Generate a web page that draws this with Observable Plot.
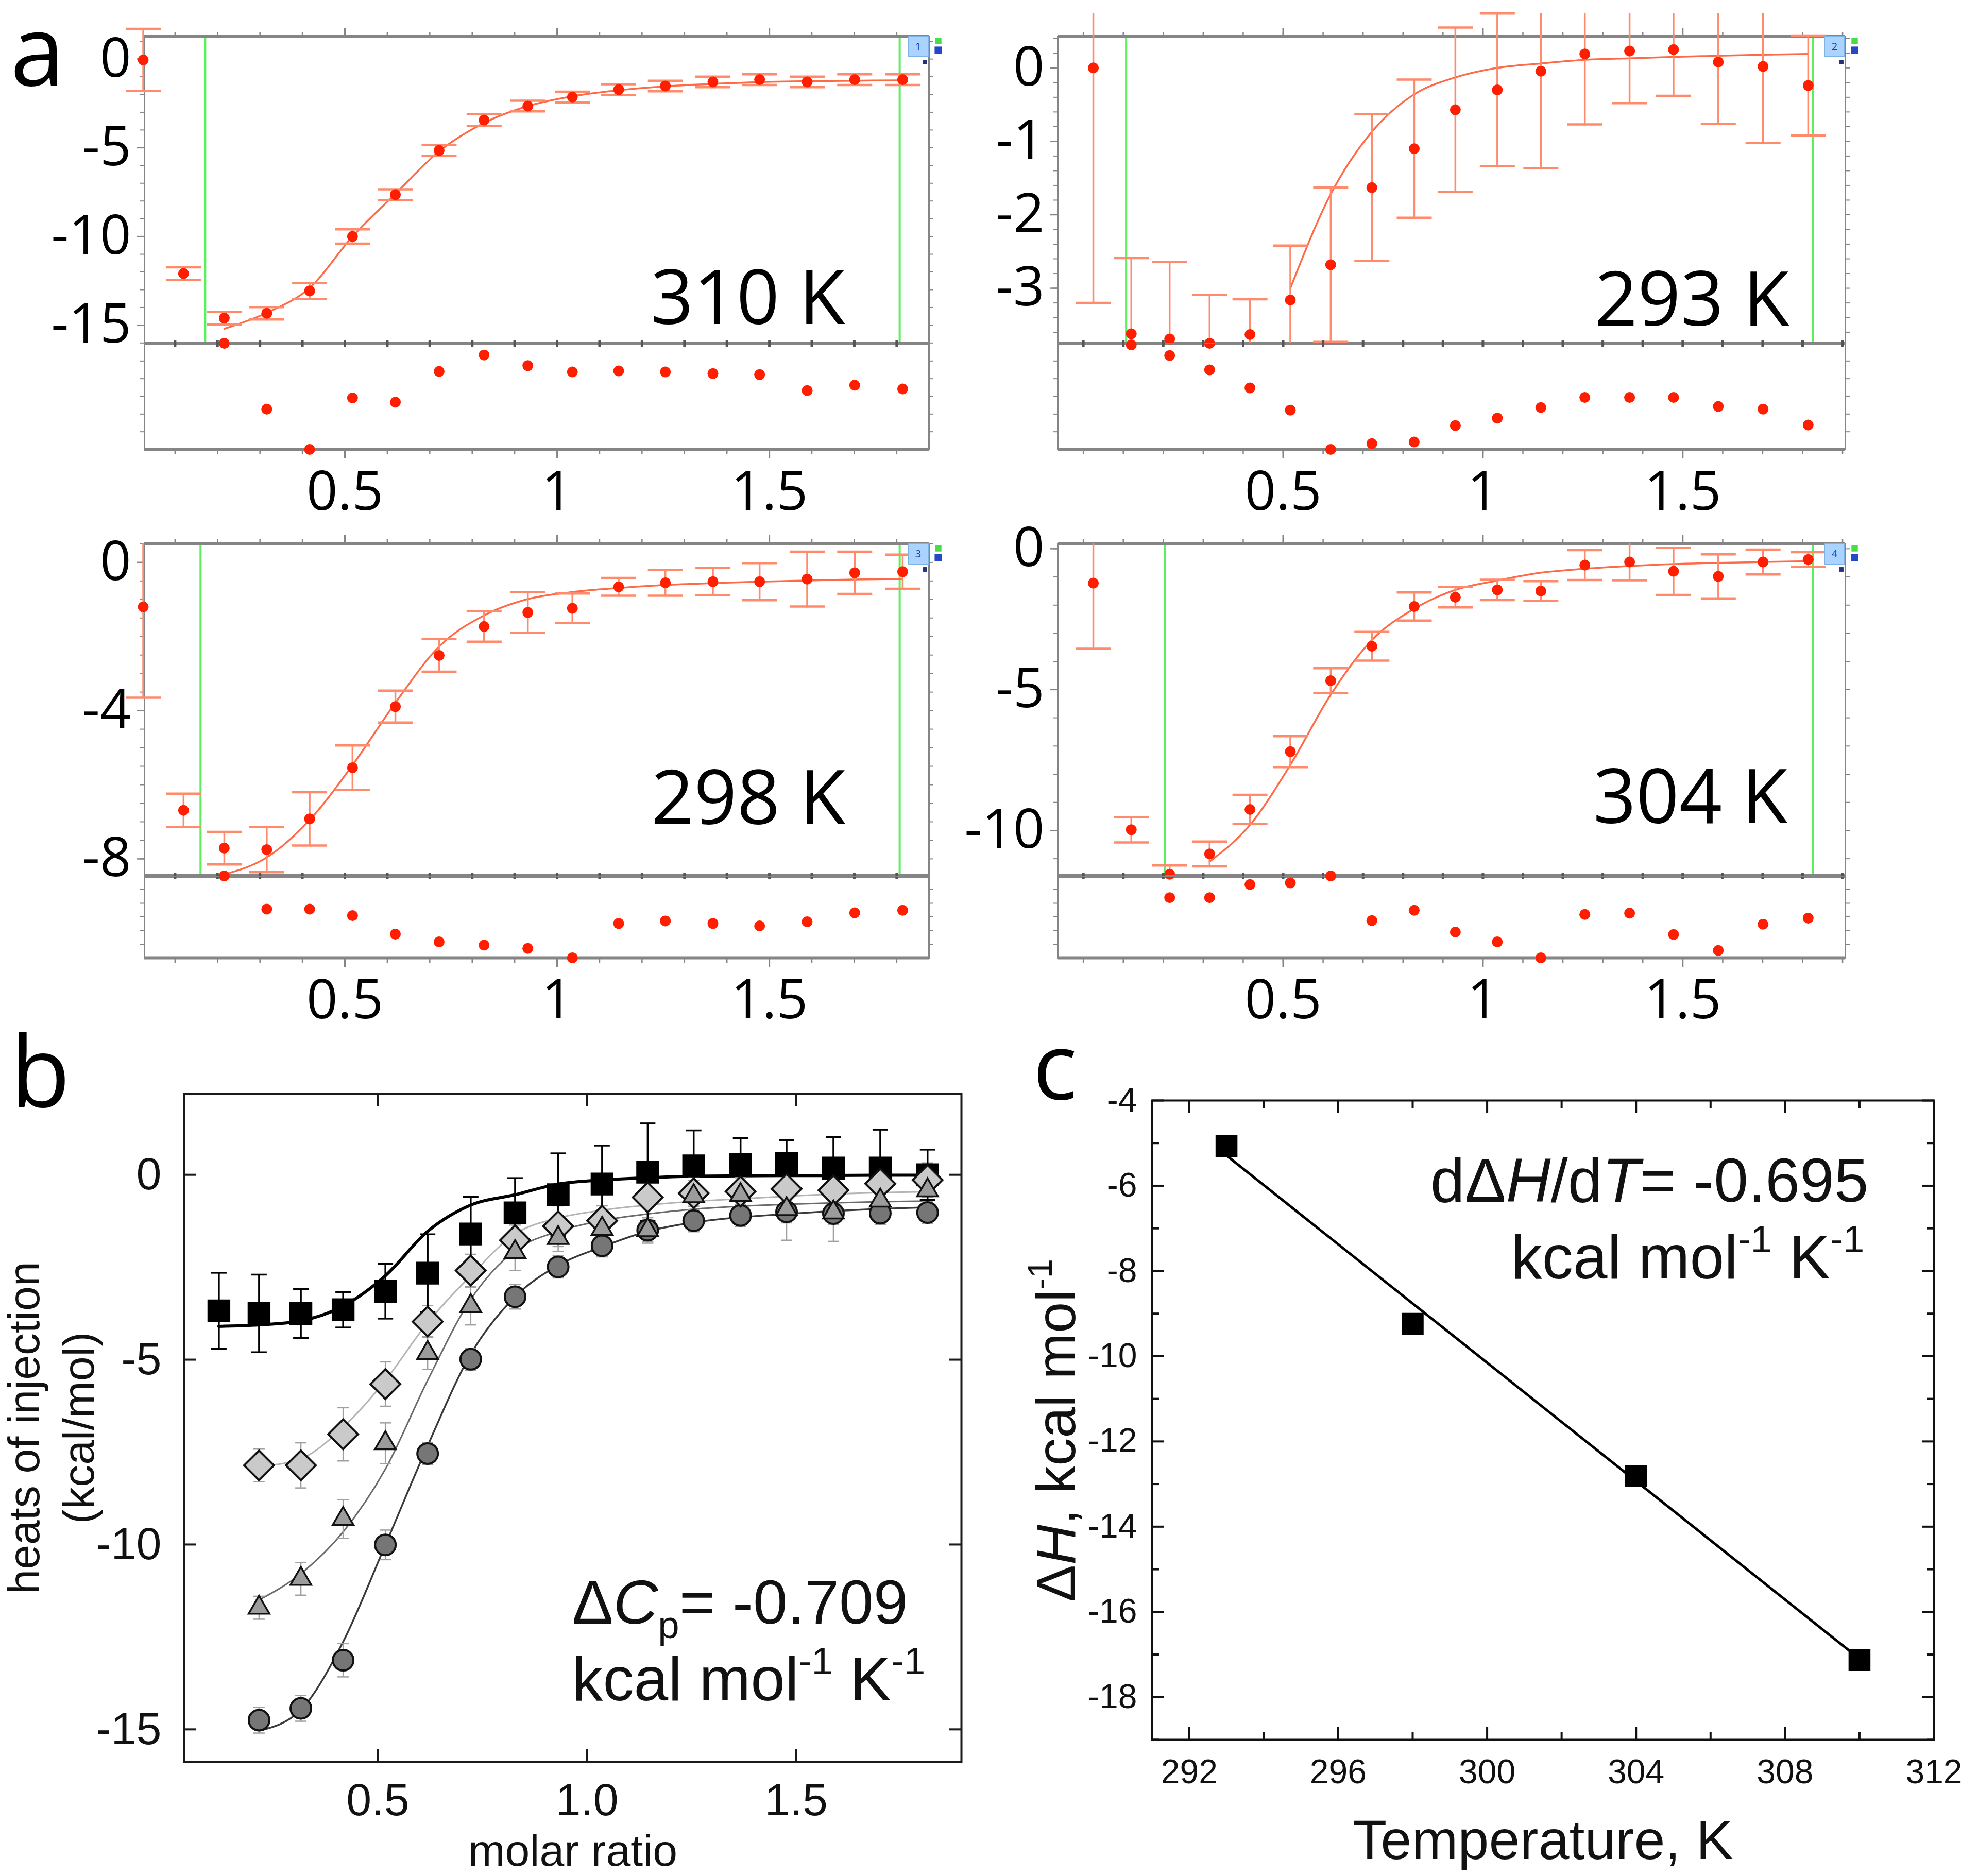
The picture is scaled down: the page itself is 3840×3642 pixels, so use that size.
<!DOCTYPE html>
<html>
<head>
<meta charset="utf-8">
<script src="https://cdn.jsdelivr.net/npm/d3@7"></script>
<script src="https://cdn.jsdelivr.net/npm/@observablehq/plot@0.6"></script>
<style>
  html, body { margin: 0; padding: 0; background: #fff; }
  body { width: 3840px; height: 3642px; position: relative; overflow: hidden; }
  .p { position: absolute; }
  .p svg { overflow: visible; }
  .letter { position: absolute; font-family: "Open Sans", sans-serif; line-height: 0.8; color: #000; }
</style>
</head>
<body>
<div class="letter" style="left:20px;top:17px;font-size:190px">a</div>
<div class="letter" style="left:20px;top:2000px;font-size:190px">b</div>
<div class="letter" style="left:2005px;top:1993px;font-size:180px">c</div>
<script>
// ================= DATA =================
// injection molar ratios (shared by all ITC traces)
const molarRatio = [0.025, 0.12, 0.216, 0.316, 0.417, 0.518, 0.619, 0.722, 0.828, 0.931, 1.036, 1.145, 1.255, 1.367, 1.477, 1.589, 1.701, 1.814];

// panel a, 310 K
const heat310  = [-0.05, -12.09, -14.6, -14.33, -13.07, -10.0, -7.64, -5.15, -3.44, -2.65, -2.14, -1.72, -1.52, -1.29, -1.16, -1.29, -1.16, -1.16];
const err310   = [1.75, 0.35, 0.35, 0.35, 0.45, 0.4, 0.3, 0.3, 0.33, 0.3, 0.3, 0.3, 0.3, 0.3, 0.3, 0.3, 0.3, 0.3];
const fit310   = [null, null, -15.2, -14.3, -12.9, -10.0, -7.6, -5.2, -3.6, -2.65, -2.1, -1.76, -1.54, -1.4, -1.3, -1.25, -1.22, -1.2];
const resid310 = [null, null, 1.0, -0.24, -1.0, -0.03, -0.11, 0.47, 0.78, 0.58, 0.46, 0.48, 0.46, 0.43, 0.41, 0.11, 0.21, 0.14];

// panel a, 293 K
const heat293  = [0.0, -3.62, -3.69, -3.75, -3.63, -3.16, -2.68, -1.63, -1.10, -0.57, -0.30, -0.045, 0.19, 0.23, 0.25, 0.08, 0.02, -0.24];
const err293   = [3.2, 1.03, 1.05, 0.66, 0.48, 0.74, 1.05, 1.0, 0.94, 1.12, 1.04, 1.32, 0.96, 0.71, 0.63, 0.84, 1.04, 0.68];
const fit293   = [null, null, null, null, null, -3.0, -1.72, -0.87, -0.36, -0.13, 0.0, 0.06, 0.11, 0.13, 0.15, 0.165, 0.18, 0.19];
const resid293 = [null, 0.97, 0.77, 0.50, 0.16, -0.26, -1.0, -0.89, -0.86, -0.55, -0.41, -0.21, -0.02, -0.02, -0.02, -0.19, -0.24, -0.54];

// panel a, 298 K
const heat298  = [-1.20, -6.69, -7.71, -7.75, -6.92, -5.54, -3.89, -2.51, -1.73, -1.35, -1.24, -0.66, -0.55, -0.52, -0.52, -0.45, -0.28, -0.25];
const err298   = [2.45, 0.45, 0.44, 0.61, 0.72, 0.6, 0.43, 0.44, 0.41, 0.55, 0.4, 0.24, 0.35, 0.37, 0.5, 0.74, 0.57, 0.46];
const fit298   = [null, null, -8.42, -7.96, -6.95, -5.47, -3.79, -2.27, -1.43, -0.99, -0.80, -0.69, -0.61, -0.56, -0.52, -0.49, -0.46, -0.45];
const resid298 = [null, null, 1.0, 0.19, 0.19, 0.03, -0.42, -0.61, -0.69, -0.77, -1.0, -0.16, -0.10, -0.16, -0.22, -0.12, 0.10, 0.16];

// panel a, 304 K
const heat304  = [-1.22, -9.97, -11.55, -10.83, -9.25, -7.20, -4.68, -3.46, -2.05, -1.72, -1.46, -1.50, -0.58, -0.47, -0.80, -0.98, -0.47, -0.38];
const err304   = [2.33, 0.45, 0.31, 0.44, 0.52, 0.55, 0.44, 0.51, 0.5, 0.36, 0.36, 0.35, 0.53, 0.65, 0.84, 0.78, 0.44, 0.26];
const fit304   = [null, null, null, -11.1, -9.8, -7.67, -5.18, -3.24, -2.13, -1.46, -1.13, -0.85, -0.71, -0.61, -0.54, -0.50, -0.47, -0.44];
const resid304 = [null, null, 0.47, 0.47, 0.79, 0.83, 1.0, -0.09, 0.16, -0.37, -0.61, -1.0, 0.06, 0.09, -0.43, -0.82, -0.18, -0.03];

// integration limits (green markers)
const limits310 = [0.171, 1.807];
const limits293 = [0.107, 1.826];
const limits298 = [0.16, 1.807];
const limits304 = [0.204, 1.826];

// panel b (global fit): squares 293 K, diamonds 298 K, triangles 304 K, circles 310 K
const bSquares    = [null, -3.68, -3.75, -3.75, -3.65, -3.15, -2.66, -1.6, -1.03, -0.54, -0.25, 0.07, 0.24, 0.28, 0.31, 0.18, 0.18, 0.0];
const bDiamonds   = [null, null, -7.86, -7.86, -7.02, -5.66, -3.97, -2.59, -1.77, -1.39, -1.24, -0.61, -0.5, -0.45, -0.38, -0.42, -0.24, -0.14];
const bTriangles  = [null, null, -11.71, -10.93, -9.31, -7.26, -4.82, -3.55, -2.09, -1.71, -1.46, -1.5, -0.58, -0.55, -0.93, -1.02, -0.70, -0.42];
const bCircles    = [null, null, -14.75, -14.43, -13.13, -10.01, -7.54, -4.99, -3.3, -2.49, -1.92, -1.5, -1.24, -1.1, -1.0, -1.05, -1.04, -1.02];
const bFitSquares   = [null, -4.10, -4.06, -3.95, -3.55, -2.73, -1.53, -0.82, -0.54, -0.25, -0.14, -0.08, -0.04, -0.03, -0.02, -0.02, -0.01, -0.01];
const bFitDiamonds  = [null, null, -7.89, -7.68, -6.83, -5.56, -4.0, -2.73, -1.6, -1.17, -0.96, -0.82, -0.72, -0.65, -0.58, -0.52, -0.48, -0.46];
const bFitTriangles = [null, null, -11.5, -10.79, -9.66, -7.96, -5.56, -3.37, -2.05, -1.53, -1.24, -1.06, -0.93, -0.85, -0.8, -0.76, -0.73, -0.71];
const bFitCircles   = [null, null, -15.04, -14.47, -12.63, -10.01, -7.33, -4.85, -3.3, -2.45, -1.95, -1.53, -1.29, -1.15, -1.06, -0.98, -0.92, -0.88];

// panel c
const temperatureK = [293, 298, 304, 310];
const deltaH = [-5.07, -9.24, -12.81, -17.13];
const fitTemperatureK = [293, 310];
const fitDeltaH = [-5.29, -17.1];

// tick values / labels
const aXMajor = [0.5, 1, 1.5];
const aXMinor = d3.range(0, 20).map(k => +(k * 0.1).toFixed(2));
const residTicks = [-2 / 3, -1 / 3, 0, 1 / 3, 2 / 3];
const bXTicks = [0.5, 1.0, 1.5];
const bYTicks = [0, -5, -10, -15];
const cXTicks = [292, 296, 300, 304, 308, 312];
const cXMinor = [294, 298, 302, 306, 310];
const cYTicks = [-4, -6, -8, -10, -12, -14, -16, -18];
const cYMinor = [-5, -7, -9, -11, -13, -15, -17, -19];
const tempLabels = ["310 K", "293 K", "298 K", "304 K"];

// ================= STYLE =================
const A_RED = "#ff1e00", A_ERR = "#ff8b6c", A_FIT = "#ff6a46", A_GREEN = "#5cee5c", A_FRAME = "#858585";
const A_FONT = "'Open Sans', sans-serif";
const B_FONT = "'Liberation Sans', Arial, sans-serif";
const SVG_STYLE = "overflow: visible; background: transparent;";

const hcap = { draw(ctx, size) { const r = Math.sqrt(size / Math.PI); ctx.moveTo(-r, 0); ctx.lineTo(r, 0); } };

function mount(node, left, top) {
  const div = document.createElement("div");
  div.className = "p";
  div.style.left = left + "px";
  div.style.top = top + "px";
  div.appendChild(node);
  document.body.appendChild(div);
  return node;
}

function richify(svg, plain, parts, fs) {
  const NS = "http://www.w3.org/2000/svg";
  svg.querySelectorAll("text").forEach(t => {
    if (t.textContent !== plain) return;
    while (t.firstChild) t.removeChild(t.firstChild);
    let shift = 0;
    for (const p of parts) {
      const ts = document.createElementNS(NS, "tspan");
      const target = p.sup ? -0.42 * fs : p.sub ? 0.24 * fs : 0;
      if (target !== shift) { ts.setAttribute("dy", target - shift); shift = target; }
      if (p.sup || p.sub) ts.setAttribute("font-size", 0.62 * fs);
      if (p.italic) ts.setAttribute("font-style", "italic");
      ts.textContent = p.s;
      t.appendChild(ts);
    }
  });
}

// ================= PANEL A =================
const panelsA = [
  {label: tempLabels[0], icon: "1", heat: heat310, err: err310, fit: fit310, resid: resid310, green: limits310,
   xDomain: [0.028, 1.876], yDomain: [-16.02, 1.28], yTicks: [0, -5, -10, -15], yStep: 1, errTop: null,
   left: 0, marginRight: 57, divTop: 0, frameTop: 70, sep: 666, bottom: 872, labelDx: -163, labelDy: -38},
  {label: tempLabels[1], icon: "2", heat: heat293, err: err293, fit: fit293, resid: resid293, green: limits293,
   xDomain: [-0.064, 1.907], yDomain: [-3.75, 0.43], yTicks: [0, -1, -2, -3], yStep: 0.2, errTop: 0.74,
   left: 1773, marginRight: 51, divTop: 0, frameTop: 70, sep: 666, bottom: 872, labelDx: -109, labelDy: -35},
  {label: tempLabels[2], icon: "3", heat: heat298, err: err298, fit: fit298, resid: resid298, green: limits298,
   xDomain: [0.028, 1.876], yDomain: [-8.46, 0.505], yTicks: [0, -4, -8], yStep: 0.5, errTop: 0.505,
   left: 0, marginRight: 57, divTop: 1000, frameTop: 1055, sep: 1700, bottom: 1859, labelDx: -162, labelDy: -101},
  {label: tempLabels[3], icon: "4", heat: heat304, err: err304, fit: fit304, resid: resid304, green: limits304,
   xDomain: [-0.064, 1.907], yDomain: [-11.61, 0.18], yTicks: [0, -5, -10], yStep: 1, errTop: 0.18,
   left: 1773, marginRight: 51, divTop: 1000, frameTop: 1055, sep: 1700, bottom: 1859, labelDx: -112, labelDy: -103}
];

function drawPanelA(p) {
  const rows = molarRatio.map((x, i) => ({x, y: p.heat[i], e: p.err[i], f: p.fit[i], r: p.resid[i]}));
  const [y0, y1] = p.yDomain;
  const [x0, x1] = p.xDomain;
  const inX = t => t >= x0 - 1e-9 && t <= x1 + 1e-9;
  const minorX = aXMinor.filter(inX);
  const majorX = aXMajor.filter(inX);
  const minorY = d3.range(Math.ceil(y0 / p.yStep - 1e-9), Math.floor(y1 / p.yStep + 1e-9) + 1).map(k => +(k * p.yStep).toFixed(3));
  const top = p.errTop == null ? Infinity : p.errTop;
  const gray = {stroke: A_FRAME, fill: "none", label: null};
  const common = {width: 1860, marginLeft: 280, marginRight: p.marginRight, style: SVG_STYLE};

  const main = Plot.plot({
    ...common,
    height: p.sep - p.divTop, marginTop: p.frameTop - p.divTop, marginBottom: 0,
    x: {domain: p.xDomain, axis: null},
    y: {domain: p.yDomain, axis: null},
    marks: [
      Plot.ruleX(p.green, {stroke: A_GREEN, strokeWidth: 4}),
      Plot.frame({stroke: A_FRAME, strokeWidth: 3}),
      Plot.ruleY([y1], {stroke: A_FRAME, strokeWidth: 6}),
      Plot.ruleY([y0], {stroke: A_FRAME, strokeWidth: 7}),
      Plot.axisX(minorX, {...gray, anchor: "top", tickSize: 9, strokeWidth: 2.5}),
      Plot.axisX(majorX, {...gray, anchor: "top", tickSize: 17, strokeWidth: 3}),
      Plot.axisX(minorX, {...gray, anchor: "bottom", tickSize: 7, strokeWidth: 5, stroke: "#555"}),
      Plot.axisY(minorY, {...gray, anchor: "left", tickSize: 8, strokeWidth: 2}),
      Plot.axisY(p.yTicks, {...gray, anchor: "left", tickSize: 14, strokeWidth: 2.5}),
      Plot.axisY(minorY, {...gray, anchor: "right", tickSize: 8, strokeWidth: 2}),
      Plot.axisY(p.yTicks, {anchor: "left", tickSize: 0, tickPadding: 26, tickFormat: d => String(d),
        fontSize: 106, fontFamily: A_FONT, fill: "#000", label: null}),
      Plot.line(rows.filter(d => d.f != null), {x: "x", y: "f", stroke: A_FIT, strokeWidth: 3.5, curve: "monotone-x", clip: true}),
      Plot.ruleX(rows, {x: "x", y1: d => Math.max(d.y - d.e, y0), y2: d => Math.min(d.y + d.e, top), stroke: A_ERR, strokeWidth: 3.5}),
      Plot.dot(rows.filter(d => d.y - d.e >= y0 - 0.03), {x: "x", y: d => d.y - d.e, symbol: hcap, r: 34, stroke: A_ERR, strokeWidth: 4.5, fill: "none"}),
      Plot.dot(rows.filter(d => d.y + d.e <= top), {x: "x", y: d => d.y + d.e, symbol: hcap, r: 34, stroke: A_ERR, strokeWidth: 4.5, fill: "none"}),
      Plot.dot(rows, {x: "x", y: "y", r: 10.5, fill: A_RED}),
      Plot.text([p.label], {frameAnchor: "bottom-right", dx: p.labelDx, dy: p.labelDy, textAnchor: "end", lineAnchor: "bottom",
        fontSize: 146, fontFamily: A_FONT, fill: "#000"}),
      Plot.dot([p.icon], {frameAnchor: "top-right", dx: -21, dy: 20, symbol: "square", r: 22, fill: "#aad4ff", stroke: "#7eb2e2", strokeWidth: 2}),
      Plot.text([p.icon], {frameAnchor: "top-right", dx: -21, dy: 20, textAnchor: "middle", fontSize: 20, fontFamily: A_FONT, fill: "#1c3ca8", lineAnchor: "middle"}),
      Plot.dot([p.icon], {frameAnchor: "top-right", dx: 18, dy: 9, symbol: "square", r: 7, fill: "#46dd46"}),
      Plot.dot([p.icon], {frameAnchor: "top-right", dx: 18, dy: 27, symbol: "square", r: 8, fill: "#2448c8"}),
      Plot.dot([p.icon], {frameAnchor: "top-right", dx: -8, dy: 50, symbol: "square", r: 5, fill: "#223377"})
    ]
  });
  mount(main, p.left, p.divTop);

  const resid = Plot.plot({
    ...common,
    height: p.bottom - p.sep + 170, marginTop: 0, marginBottom: 170,
    x: {domain: p.xDomain, axis: null},
    y: {domain: [-1, 1], axis: null},
    marks: [
      Plot.frame({stroke: A_FRAME, strokeWidth: 3}),
      Plot.ruleY([-1], {stroke: A_FRAME, strokeWidth: 6}),
      Plot.axisX(minorX, {...gray, anchor: "top", tickSize: 7, strokeWidth: 5, stroke: "#555"}),
      Plot.axisX(minorX, {...gray, anchor: "bottom", tickSize: 10, strokeWidth: 2.5}),
      Plot.axisX(majorX, {...gray, anchor: "bottom", tickSize: 18, strokeWidth: 3}),
      Plot.axisY(residTicks, {...gray, anchor: "left", tickSize: 8, strokeWidth: 2}),
      Plot.axisY(residTicks, {...gray, anchor: "right", tickSize: 8, strokeWidth: 2}),
      Plot.axisX(majorX, {anchor: "bottom", tickSize: 0, tickPadding: 42, tickFormat: d => String(d),
        fontSize: 106, fontFamily: A_FONT, fill: "#000", label: null}),
      Plot.dot(rows.filter(d => d.r != null), {x: "x", y: "r", r: 10.5, fill: A_RED})
    ]
  });
  mount(resid, p.left, p.sep);
}
panelsA.forEach(drawPanelA);

// ================= PANEL B =================
function drawPanelB() {
  const mk = (vals, errs, fit) => molarRatio.map((x, i) => ({x, y: vals[i], e: errs[i], f: fit[i]})).filter(d => d.y != null);
  const sq = mk(bSquares, err293, bFitSquares);
  const di = mk(bDiamonds, err298, bFitDiamonds);
  const tr = mk(bTriangles, err304, bFitTriangles);
  const ci = mk(bCircles, err310, bFitCircles);
  const ERRG = "#a0a0a0";
  const errMarks = (rows, stroke, w, capR) => [
    Plot.ruleX(rows, {x: "x", y1: d => d.y - d.e, y2: d => d.y + d.e, stroke, strokeWidth: w}),
    Plot.dot(rows, {x: "x", y: d => d.y - d.e, symbol: hcap, r: capR, stroke, strokeWidth: w, fill: "none"}),
    Plot.dot(rows, {x: "x", y: d => d.y + d.e, symbol: hcap, r: capR, stroke, strokeWidth: w, fill: "none"})
  ];
  const tk = {fill: "none", stroke: "#1a1a1a", strokeWidth: 4, label: null, tickSize: -24};
  const svg = Plot.plot({
    width: 1940, height: 1592, marginLeft: 357, marginRight: 74, marginTop: 73, marginBottom: 222,
    style: SVG_STYLE,
    x: {domain: [0.037, 1.895], axis: null},
    y: {domain: [-15.88, 2.19], axis: null},
    marks: [
      Plot.frame({stroke: "#1a1a1a", strokeWidth: 4}),
      Plot.axisX(bXTicks, {...tk, anchor: "bottom"}),
      Plot.axisX(bXTicks, {...tk, anchor: "top"}),
      Plot.axisY(bYTicks, {...tk, anchor: "left"}),
      Plot.axisY(bYTicks, {...tk, anchor: "right"}),
      Plot.axisX(bXTicks, {anchor: "bottom", tickSize: 0, tickPadding: 41, tickFormat: d3.format(".1f"), fontSize: 88, fontFamily: B_FONT, fill: "#111", label: null}),
      Plot.axisY(bYTicks, {anchor: "left", tickSize: 0, tickPadding: 44, tickFormat: d => String(d), fontSize: 88, fontFamily: B_FONT, fill: "#111", label: null}),
      Plot.line(ci.filter(d => d.f != null), {x: "x", y: "f", stroke: "#3a3a3a", strokeWidth: 3.5, curve: "monotone-x"}),
      Plot.line(tr.filter(d => d.f != null), {x: "x", y: "f", stroke: "#6a6a6a", strokeWidth: 3, curve: "monotone-x"}),
      Plot.line(di.filter(d => d.f != null), {x: "x", y: "f", stroke: "#b4b4b4", strokeWidth: 3, curve: "monotone-x"}),
      Plot.line(sq.filter(d => d.f != null), {x: "x", y: "f", stroke: "#000", strokeWidth: 6, curve: "monotone-x"}),
      ...errMarks(ci, ERRG, 2.5, 11),
      ...errMarks(tr, ERRG, 2.5, 11),
      ...errMarks(di, ERRG, 2.5, 11),
      ...errMarks(sq, "#000", 3.5, 15),
      Plot.dot(sq, {x: "x", y: "y", symbol: "square", r: 25, fill: "#000"}),
      Plot.dot(ci, {x: "x", y: "y", symbol: "circle", r: 20, fill: "#767676", stroke: "#111", strokeWidth: 4}),
      Plot.dot(di, {x: "x", y: "y", symbol: "diamond2", r: 26, fill: "#cacaca", stroke: "#111", strokeWidth: 4}),
      Plot.dot(tr, {x: "x", y: "y", symbol: "triangle", r: 15, fill: "#9c9c9c", stroke: "#111", strokeWidth: 3.5}),
      Plot.text(["heats of injection"], {frameAnchor: "left", dx: -309, rotate: -90, textAnchor: "middle", lineAnchor: "middle", fontSize: 86, fontFamily: B_FONT, fill: "#111"}),
      Plot.text(["(kcal/mol)"], {frameAnchor: "left", dx: -203, rotate: -90, textAnchor: "middle", lineAnchor: "middle", fontSize: 86, fontFamily: B_FONT, fill: "#111"}),
      Plot.text(["molar ratio"], {frameAnchor: "bottom", dy: 201, textAnchor: "middle", lineAnchor: "bottom", fontSize: 86, fontFamily: B_FONT, fill: "#111"}),
      Plot.text(["ΔCp= -0.709"], {frameAnchor: "bottom-left", dx: 753, dy: -269, textAnchor: "start", lineAnchor: "bottom", fontSize: 120, fontFamily: B_FONT, fill: "#111"}),
      Plot.text(["kcal mol-1 K-1"], {frameAnchor: "bottom-left", dx: 753, dy: -120, textAnchor: "start", lineAnchor: "bottom", fontSize: 120, fontFamily: B_FONT, fill: "#111"})
    ]
  });
  richify(svg, "ΔCp= -0.709", [{s: "Δ"}, {s: "C", italic: true}, {s: "p", sub: true}, {s: "= -0.709"}], 120);
  richify(svg, "kcal mol-1 K-1", [{s: "kcal mol"}, {s: "-1", sup: true}, {s: " K"}, {s: "-1", sup: true}], 120);
  mount(svg, 0, 2050);
}
drawPanelB();

// ================= PANEL C =================
function drawPanelC() {
  const pts = temperatureK.map((t, i) => ({t, h: deltaH[i]}));
  const fit = fitTemperatureK.map((t, i) => ({t, h: fitDeltaH[i]}));
  const major = {fill: "none", stroke: "#111", strokeWidth: 4, label: null, tickSize: -24};
  const minor = {fill: "none", stroke: "#111", strokeWidth: 4, label: null, tickSize: -14};
  const svg = Plot.plot({
    width: 1900, height: 1592, marginLeft: 296, marginRight: 86, marginTop: 86, marginBottom: 265,
    style: SVG_STYLE,
    x: {domain: [291, 312], axis: null},
    y: {domain: [-19, -4], axis: null},
    marks: [
      Plot.frame({stroke: "#111", strokeWidth: 4}),
      Plot.axisX(cXTicks, {...major, anchor: "bottom"}),
      Plot.axisX(cXTicks, {...major, anchor: "top"}),
      Plot.axisX(cXMinor, {...minor, anchor: "bottom"}),
      Plot.axisX(cXMinor, {...minor, anchor: "top"}),
      Plot.axisY(cYTicks, {...major, anchor: "left"}),
      Plot.axisY(cYTicks, {...major, anchor: "right"}),
      Plot.axisY(cYMinor, {...minor, anchor: "left"}),
      Plot.axisY(cYMinor, {...minor, anchor: "right"}),
      Plot.axisX(cXTicks, {anchor: "bottom", tickSize: 0, tickPadding: 38, tickFormat: d => String(d), fontSize: 66, fontFamily: B_FONT, fill: "#111", label: null}),
      Plot.axisY(cYTicks, {anchor: "left", tickSize: 0, tickPadding: 29, tickFormat: d => String(d), fontSize: 66, fontFamily: B_FONT, fill: "#111", label: null}),
      Plot.line(fit, {x: "t", y: "h", stroke: "#000", strokeWidth: 5}),
      Plot.dot(pts, {x: "t", y: "h", symbol: "square", r: 24, fill: "#000"}),
      Plot.text(["Temperature, K"], {frameAnchor: "bottom", dy: 231, textAnchor: "middle", lineAnchor: "bottom", fontSize: 108, fontFamily: B_FONT, fill: "#111"}),
      Plot.text(["ΔH, kcal mol-1"], {frameAnchor: "left", dx: -184, dy: 20, rotate: -90, textAnchor: "middle", lineAnchor: "middle", fontSize: 108, fontFamily: B_FONT, fill: "#111"}),
      Plot.text(["dΔH/dT= -0.695"], {frameAnchor: "top-right", dx: -127, dy: 196, textAnchor: "end", lineAnchor: "bottom", fontSize: 120, fontFamily: B_FONT, fill: "#111"}),
      Plot.text(["kcal mol-1 K-1"], {frameAnchor: "top-right", dx: -135, dy: 345, textAnchor: "end", lineAnchor: "bottom", fontSize: 120, fontFamily: B_FONT, fill: "#111"})
    ]
  });
  richify(svg, "ΔH, kcal mol-1", [{s: "Δ"}, {s: "H", italic: true}, {s: ", kcal mol"}, {s: "-1", sup: true}], 108);
  richify(svg, "dΔH/dT= -0.695", [{s: "dΔ"}, {s: "H", italic: true}, {s: "/d"}, {s: "T", italic: true}, {s: "= -0.695"}], 120);
  richify(svg, "kcal mol-1 K-1", [{s: "kcal mol"}, {s: "-1", sup: true}, {s: " K"}, {s: "-1", sup: true}], 120);
  mount(svg, 1940, 2050);
}
drawPanelC();
</script>
</body>
</html>
